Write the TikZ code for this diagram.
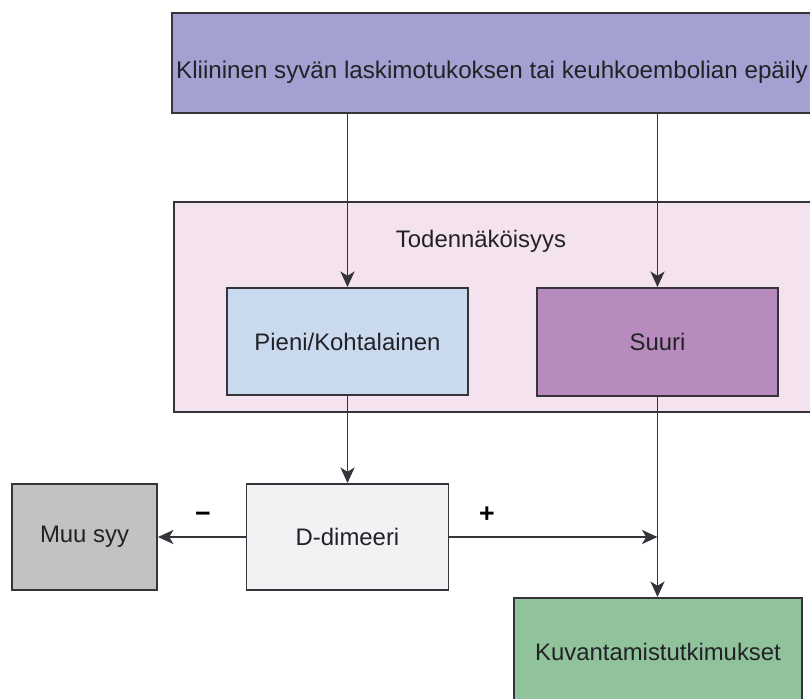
\documentclass[tikz,border=0pt]{standalone}
\usepackage{fontspec}
\setmainfont{Liberation Sans}
\usetikzlibrary{arrows.meta}
\definecolor{edgegray}{RGB}{52,52,58}
\definecolor{txtgray}{RGB}{34,34,38}
\definecolor{topfill}{RGB}{164,161,210}
\definecolor{probfill}{RGB}{244,227,239}
\definecolor{lowfill}{RGB}{201,218,239}
\definecolor{highfill}{RGB}{184,139,191}
\definecolor{dimfill}{RGB}{242,242,244}
\definecolor{otherfill}{RGB}{194,194,194}
\definecolor{imgfill}{RGB}{144,194,156}
\tikzset{
  blk/.style={rectangle,draw=edgegray,line width=1.4pt,text=txtgray,inner sep=0pt,
    font=\fontsize{17}{20}\selectfont},
  flow/.style={draw=edgegray,line width=1.4pt,-{Stealth[length=11pt,width=10pt,inset=3pt]}},
  sign/.style={text=black,font=\fontsize{19}{20}\selectfont\bfseries}
}
\newcommand{\blknode}{\node[blk]}
\begin{document}
\begin{tikzpicture}
          \useasboundingbox (0,0) rectangle (20.25,-17.45);
          \clip (0,0) rectangle (20.25,-17.45);
          \blknode[fill=topfill,minimum width=16.1cm,minimum height=2.5cm] (top) at (12.35,-1.575) {}; %
          \node[text=txtgray,font=\fontsize{17.2}{20}\selectfont] (toptext) at (12.3,-1.8) {Kliininen syvän laskimotukoksen tai keuhkoembolian epäily};
          \blknode[fill=probfill,minimum width=16.5cm,minimum height=5.25cm] (prob) at (12.6,-7.675) {}; %
          \node[text=txtgray,font=\fontsize{17}{20}\selectfont] (probtitle) at (12.025,-6.025) {Todennäköisyys};
          \blknode[fill=lowfill,minimum width=6.025cm,minimum height=2.675cm] (low) at (8.6875,-8.5375) {Pieni/Kohtalainen};
          \blknode[fill=highfill,minimum width=6.025cm,minimum height=2.7cm] (high) at (16.4375,-8.55) {Suuri};
          \blknode[fill=dimfill,minimum width=5.05cm,minimum height=2.65cm] (ddim) at (8.6875,-13.425) {D-dimeeri}; %
          \blknode[fill=otherfill,minimum width=3.625cm,minimum height=2.65cm] (other) at (2.1125,-13.425) {Muu syy}; %
          \blknode[fill=imgfill,minimum width=7.2cm,minimum height=2.7cm] (img) at (16.45,-16.3) {Kuvantamistutkimukset};
          \coordinate (join) at (high.south |- ddim.east);
          \node[sign] (neg) at (5.075,-12.925) {−};
          \node[sign] (pos) at (12.175,-12.875) {+};
          \draw[flow] (top.south -| low.north) -- (low.north);
          \draw[flow] (top.south -| high.north) -- (high.north);
          \draw[flow] (low.south) -- (ddim.north);
          \draw[flow] (ddim.west) -- (other.east);
          \draw[flow] (ddim.east) -- (join);
          \draw[flow] (high.south) -- (high.south |- img.north);
        \end{tikzpicture}
\end{document}
